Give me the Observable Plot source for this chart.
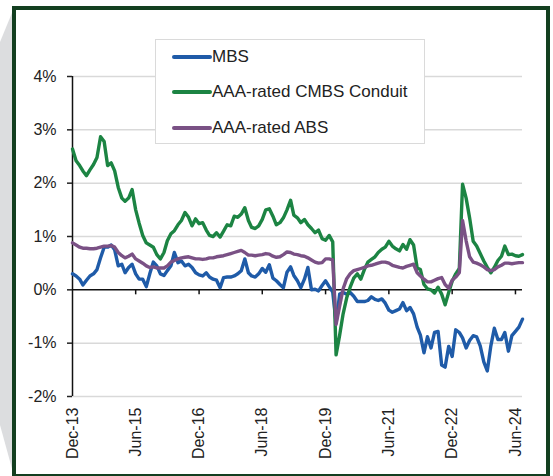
<!DOCTYPE html>
<html>
<head>
<meta charset="utf-8">
<script src="https://cdn.jsdelivr.net/npm/d3@7"></script>
<script src="https://cdn.jsdelivr.net/npm/@observablehq/plot@0.6"></script>
<style>
html, body { margin: 0; padding: 0; background: #fff; }
#wrap { position: relative; width: 553px; height: 476px; overflow: hidden; font-family: "Liberation Sans", Arial, sans-serif; }
#deco { position: absolute; left: 0; top: 0; }
#chart { position: absolute; left: 0; top: 0; }
#frame { position: absolute; left: 12px; top: 6px; width: 538px; height: 472px; box-sizing: border-box; border: 4px solid #133f20; pointer-events: none; }
#legend { position: absolute; left: 155px; top: 39px; width: 270px; height: 105px; box-sizing: border-box; border: 1.5px solid #dadada; background: #fff; }
.row { position: absolute; left: 16px; height: 22px; display: flex; align-items: center; white-space: nowrap; }
.sw { display: inline-block; width: 40px; height: 4px; border-radius: 2px; }
.lab { font-size: 17px; color: #222; }
</style>
</head>
<body>
<div id="wrap">
  <svg id="deco" width="553" height="476"><polygon points="14,8 0,42 0,425 14,476" fill="#dcdddf"/></svg>
  <div id="chart"></div>
  <div id="legend"></div>
  <div id="frame"></div>
</div>
<script>
const seriesNames = ["MBS", "AAA-rated CMBS Conduit", "AAA-rated ABS"];
const seriesColors = ["#1f5ba8", "#1c8443", "#7a5185"];
const tickLabels = ["Dec-13", "Jun-15", "Dec-16", "Jun-18", "Dec-19", "Jun-21", "Dec-22", "Jun-24"];
const yTicks = [-2, -1, 0, 1, 2, 3, 4];

// monthly observations, Dec 2013 .. Aug 2024 (spread, %)
const months = d3.utcMonths(new Date(Date.UTC(2013, 11, 1)), new Date(Date.UTC(2024, 8, 1)));

const mbs = [
  0.30,0.26,0.20,0.09,0.18,0.26,0.30,0.38,0.60,0.80,
  0.80,0.84,0.75,0.45,0.48,0.32,0.42,0.48,0.30,0.20,
  0.20,0.06,0.30,0.52,0.45,0.30,0.27,0.36,0.45,0.70,
  0.51,0.54,0.45,0.48,0.42,0.32,0.28,0.26,0.32,0.24,
  0.20,0.18,0.04,0.23,0.24,0.24,0.26,0.30,0.36,0.58,
  0.32,0.26,0.24,0.30,0.40,0.33,0.47,0.22,0.17,0.10,
  0.04,0.33,0.43,0.27,0.17,0.04,0.20,0.42,0.00,0.01,
  -0.02,0.08,0.17,0.06,-0.04,-0.62,-0.08,-0.05,-0.08,-0.05,
  -0.12,-0.22,-0.22,-0.22,-0.20,-0.13,-0.18,-0.20,-0.17,-0.25,
  -0.38,-0.42,-0.39,-0.36,-0.24,-0.39,-0.33,-0.45,-0.70,-0.85,
  -1.18,-0.88,-1.09,-0.80,-0.78,-1.41,-1.45,-1.06,-1.25,-0.75,
  -0.80,-0.90,-1.09,-0.95,-0.86,-0.88,-1.05,-1.35,-1.52,-1.05,
  -0.72,-0.93,-0.93,-0.80,-1.15,-0.86,-0.78,-0.70,-0.55
];
const cmbs = [
  2.64,2.42,2.33,2.23,2.14,2.25,2.35,2.48,2.87,2.78,
  2.33,2.38,2.23,1.92,1.72,1.66,1.72,1.88,1.50,1.25,
  1.02,0.88,0.84,0.80,0.66,0.58,0.70,0.92,1.05,1.11,
  1.22,1.30,1.45,1.36,1.20,1.33,1.24,1.26,1.12,1.02,
  1.00,1.07,0.99,1.10,1.22,1.20,1.38,1.36,1.42,1.54,
  1.30,1.17,1.15,1.20,1.32,1.50,1.52,1.38,1.22,1.26,
  1.35,1.50,1.68,1.40,1.35,1.26,1.32,1.22,1.15,1.07,
  1.12,0.96,0.93,1.02,0.90,-1.22,-0.85,-0.45,-0.15,0.05,
  0.22,0.30,0.20,0.38,0.52,0.57,0.62,0.70,0.76,0.80,
  0.91,0.82,0.77,0.73,0.85,0.76,0.94,0.84,0.41,0.38,
  0.10,0.02,0.00,-0.06,0.05,-0.08,-0.28,-0.05,0.16,0.30,
  0.40,1.98,1.72,1.35,0.91,0.82,0.68,0.54,0.42,0.32,
  0.42,0.55,0.63,0.82,0.66,0.67,0.64,0.63,0.66
];
const abs = [
  0.88,0.84,0.80,0.78,0.78,0.77,0.77,0.78,0.80,0.82,
  0.82,0.83,0.80,0.70,0.64,0.60,0.63,0.67,0.58,0.54,
  0.50,0.45,0.42,0.43,0.41,0.41,0.41,0.45,0.52,0.55,
  0.58,0.60,0.61,0.62,0.60,0.58,0.58,0.57,0.58,0.60,
  0.60,0.62,0.63,0.64,0.66,0.68,0.70,0.72,0.74,0.70,
  0.65,0.65,0.64,0.65,0.66,0.68,0.67,0.63,0.61,0.62,
  0.66,0.71,0.70,0.67,0.66,0.64,0.63,0.60,0.56,0.52,
  0.50,0.51,0.58,0.58,0.56,-0.65,-0.30,0.02,0.21,0.30,
  0.36,0.38,0.40,0.42,0.45,0.46,0.48,0.50,0.52,0.52,
  0.50,0.46,0.44,0.42,0.41,0.44,0.46,0.48,0.32,0.26,
  0.20,0.15,0.15,0.18,0.21,0.23,0.10,0.03,0.18,0.24,
  0.32,1.30,0.92,0.62,0.52,0.50,0.47,0.43,0.38,0.36,
  0.38,0.43,0.46,0.50,0.50,0.49,0.50,0.51,0.51
];

const parseTick = d3.utcParse("%b-%y");
const fmtTick = d3.utcFormat("%b-%y");
const tickDates = tickLabels.map(parseTick);
const valuesBySeries = [mbs, cmbs, abs];
const rows = valuesBySeries.map((vals, s) => vals.map((v, i) => ({date: months[i], value: v, series: seriesNames[s]})));

const chart = Plot.plot({
  width: 553,
  height: 476,
  marginLeft: 72,
  marginRight: 31,
  marginTop: 76,
  marginBottom: 80,
  style: {fontFamily: '"Liberation Sans", Arial, sans-serif', fontSize: "16px", color: "#222", background: "transparent", overflow: "visible"},
  x: {type: "utc", domain: [months[0], months[months.length - 1]]},
  y: {domain: [-2, 4]},
  marks: [
    Plot.ruleY(yTicks.filter(d => d !== 0), {stroke: "#d9d9d9", strokeWidth: 1.5}),
    Plot.ruleY([0], {stroke: "#111", strokeWidth: 1.5}),
    Plot.ruleX(tickDates.slice(1), {y1: 0, y2: 0, insetBottom: -5, stroke: "#111", strokeWidth: 1.5}),
    Plot.ruleX([months[0]], {y1: -2, y2: 4, stroke: "#111", strokeWidth: 1.5}),
    Plot.axisY({ticks: yTicks, tickFormat: d => d + "%", tickSize: 5, tickPadding: 11, label: null, color: "#222", strokeWidth: 1.5}),
    Plot.axisX({ticks: tickDates, tickFormat: fmtTick, tickSize: 0, tickPadding: 11, tickRotate: -90, label: null, color: "#222"}),
    ...rows.map((r, s) => Plot.line(r, {x: "date", y: "value", stroke: seriesColors[s], strokeWidth: 3.4, strokeLinejoin: "round", strokeLinecap: "round"}))
  ]
});
document.getElementById("chart").appendChild(chart);

const legend = document.getElementById("legend");
const rowTops = [6, 41, 77];
seriesNames.forEach((name, i) => {
  const row = document.createElement("div");
  row.className = "row";
  row.style.top = rowTops[i] + "px";
  const sw = document.createElement("span");
  sw.className = "sw";
  sw.style.background = seriesColors[i];
  const lab = document.createElement("span");
  lab.className = "lab";
  lab.textContent = name;
  row.appendChild(sw);
  row.appendChild(lab);
  legend.appendChild(row);
});
</script>
</body>
</html>
